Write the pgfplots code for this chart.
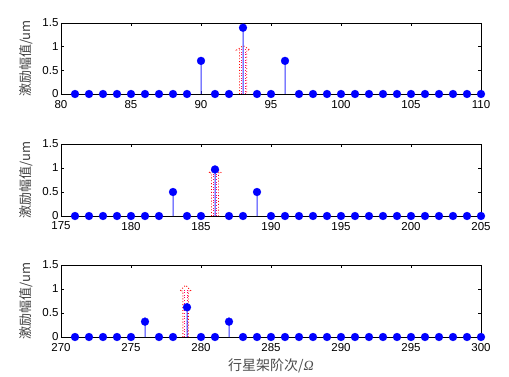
\documentclass[border=0pt]{standalone}
\usepackage{fontspec}
\setmainfont{Liberation Sans}
\newfontfamily\cjk{Noto Sans CJK SC}
\newfontfamily\serifgr{Liberation Serif}
\usepackage{pgfplots}
\pgfplotsset{compat=1.18}
\definecolor{stemblue}{RGB}{50,50,255}

\pgfplotsset{
  panel/.style={
    scale only axis, width=420pt, height=71pt, anchor=south west,
    ymin=0, ymax=1.5, ytick={0,0.5,1,1.5},
    xtick distance=5,
    tick align=inside, major tick length=3pt,
    tick style={black, line width=0.5pt},
    axis line style={black, line width=0.9pt},
    clip=false,
    tick label style={font=\fontsize{11.5}{13}\selectfont},
    /pgf/number format/assume math mode=true,
    ylabel={\cjk 激励幅值/um},
    every axis y label/.style={at={(axis description cs:-0.082,0.5)}, rotate=90, anchor=center, font=\fontsize{13}{15}\selectfont, text=black!75},
    xticklabel style={yshift=-2.5pt},
    yticklabel style={xshift=1pt},
  },
  combline/.style={ybar, bar width=1pt, bar shift=0pt, fill=stemblue, draw=none, mark=none},
  dots/.style={only marks, mark=*, mark size=4pt, mark options={fill=blue, draw=blue, line width=0.2pt, solid}},
  arr/.style={red, dotted, line width=0.9pt, mark=none},
  arr2/.style={red!60!magenta, dotted, line width=0.6pt, mark=none},
}

\pgfplotstableread{
x y
81 0
82 0
83 0
84 0
85 0
86 0
87 0
88 0
89 0
90 0.7
91 0
92 0
93 1.4
94 0
95 0
96 0.7
97 0
98 0
99 0
100 0
101 0
102 0
103 0
104 0
105 0
106 0
107 0
108 0
109 0
110 0
}\dataA
\pgfplotstableread{
x y
176 0
177 0
178 0
179 0
180 0
181 0
182 0
183 0.5
184 0
185 0
186 0.97
187 0
188 0
189 0.5
190 0
191 0
192 0
193 0
194 0
195 0
196 0
197 0
198 0
199 0
200 0
201 0
202 0
203 0
204 0
205 0
}\dataB
\pgfplotstableread{
x y
271 0
272 0
273 0
274 0
275 0
276 0.32
277 0
278 0
279 0.62
280 0
281 0
282 0.32
283 0
284 0
285 0
286 0
287 0
288 0
289 0
290 0
291 0
292 0
293 0
294 0
295 0
296 0
297 0
298 0
299 0
300 0
}\dataC

\begin{document}
\begin{tikzpicture}
\path[use as bounding box] (0pt,0pt) rectangle (509pt,-377pt);

% ---------- panel 1 ----------
\begin{axis}[panel, at={(61pt,-94pt)}, xmin=80, xmax=110]
\addplot[arr] coordinates {(92.75,0) (92.75,0.93) (92.55,0.93) (93.02,1.02) (93.5,0.93) (93.27,0.93) (93.27,0)};
\addplot[arr2] coordinates {(92.88,0) (92.88,0.95)};
\addplot[arr2] coordinates {(93.15,0) (93.15,0.95)};
\addplot[combline] table[x=x,y=y] {\dataA};
\addplot[dots] table[x=x,y=y] {\dataA};
\end{axis}

% ---------- panel 2 ----------
\begin{axis}[panel, at={(61pt,-216pt)}, height=72pt, xmin=175, xmax=205]
\addplot[arr] coordinates {(185.75,0) (185.75,0.9) (185.55,0.9) (186,1.0) (186.45,0.9) (186.25,0.9) (186.25,0)};
\addplot[arr2] coordinates {(185.88,0) (185.88,0.93)};
\addplot[arr2] coordinates {(186.12,0) (186.12,0.93)};
\addplot[combline] table[x=x,y=y] {\dataB};
\addplot[dots] table[x=x,y=y] {\dataB};
\end{axis}

% ---------- panel 3 ----------
\begin{axis}[panel, at={(61pt,-337pt)}, height=72pt, xmin=270, xmax=300,
  xlabel={{\cjk 行星架阶次/}{\serifgr\itshape Ω}},
  every axis x label/.style={at={(axis description cs:0.5,-0.40)}, anchor=center, font=\fontsize{14}{16}\selectfont, text=black!70}]
\addplot[arr] coordinates {(278.7,0) (278.7,0.96) (278.5,0.96) (278.9,1.08) (279.3,0.96) (279.1,0.96) (279.1,0)};
\addplot[arr2] coordinates {(278.8,0) (278.8,0.98)};
\addplot[arr2] coordinates {(279.0,0) (279.0,0.98)};
\addplot[combline] table[x=x,y=y] {\dataC};
\addplot[dots] table[x=x,y=y] {\dataC};
\end{axis}
\end{tikzpicture}
\end{document}
